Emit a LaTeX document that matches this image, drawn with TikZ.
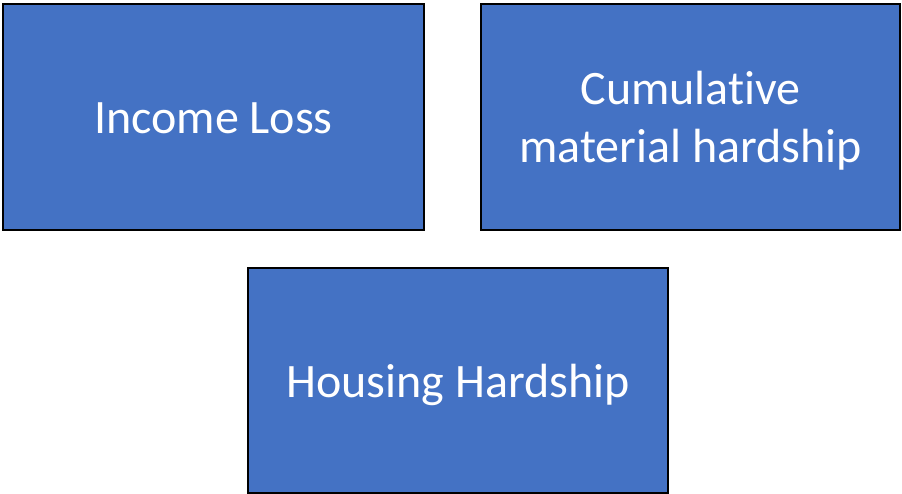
\documentclass[tikz,border=0pt]{standalone}
\usepackage{fontspec}
\setmainfont[Ligatures=NoCommon]{Carlito}
\definecolor{boxblue}{HTML}{4472C4}
\begin{document}
\begin{tikzpicture}[x=1pt,y=-1pt,
  card/.style={draw=black, line width=2.5pt, fill=boxblue, inner sep=0pt},
  lbl/.style={text=white, align=center, inner sep=0pt,
    font=\fontsize{48}{58}\selectfont}]
\useasboundingbox (0,0) rectangle (902,494);
\node[card, minimum width=421pt, minimum height=226pt] (income) at (213.5,117) {};
\node[card, minimum width=419pt, minimum height=226pt] (cumul) at (690.5,117) {};
\node[card, minimum width=420pt, minimum height=225pt] (housing) at (458,380.5) {};
\node[lbl] (incomeT) at ([yshift=-1.5pt]income.center) {Income Loss};
\node[lbl] (cumulT) at ([yshift=-4pt]cumul.center) {Cumulative\\material hardship};
\node[lbl] (housingT) at ([yshift=-4pt]housing.center) {Housing Hardship};
\end{tikzpicture}
\end{document}
